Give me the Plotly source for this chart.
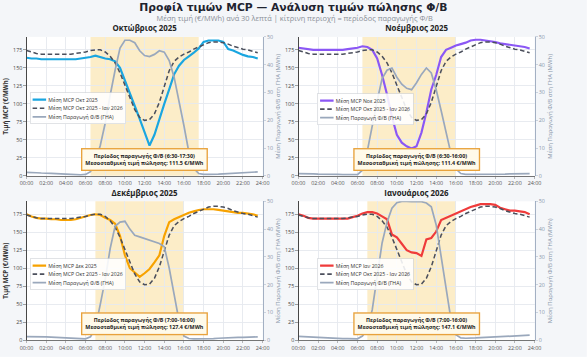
import plotly.graph_objects as go
from plotly.subplots import make_subplots

# ---------------- data ----------------
slot_hours = [0.0, 0.5, 1.0, 1.5, 2.0, 2.5, 3.0, 3.5, 4.0, 4.5, 5.0, 5.5,
              6.0, 6.5, 7.0, 7.5, 8.0, 8.5, 9.0, 9.5, 10.0, 10.5, 11.0, 11.5,
              12.0, 12.5, 13.0, 13.5, 14.0, 14.5, 15.0, 15.5, 16.0, 16.5, 17.0, 17.5,
              18.0, 18.5, 19.0, 19.5, 20.0, 20.5, 21.0, 21.5, 22.0, 22.5, 23.0, 23.5]

tick_hours = [0, 2, 4, 6, 8, 10, 12, 14, 16, 18, 20, 22, 24]
tick_labels = ["00:00", "02:00", "04:00", "06:00", "08:00", "10:00", "12:00",
               "14:00", "16:00", "18:00", "20:00", "22:00", "24:00"]
price_ticks = [0, 25, 50, 75, 100, 125, 150, 175]
pv_ticks = [0, 10, 20, 30, 40, 50]

month_titles = ["Οκτώβριος 2025", "Νοέμβριος 2025", "Δεκέμβριος 2025", "Ιανουάριος 2026"]
month_short = ["Οκτ 2025", "Νοε 2025", "Δεκ 2025", "Ιαν 2026"]

mcp_oct = [164, 163, 163, 162, 162, 162, 162, 162, 162, 162, 162, 163,
           164, 165, 167, 165, 163, 162, 159, 150, 133, 116, 97, 79,
           61, 42, 57, 79, 100, 120, 141, 153, 161, 166, 171, 177,
           186, 188, 188, 188, 186, 176, 174, 171, 168, 166, 165, 163]
mcp_nov = [178, 177, 176, 175, 175, 175, 175, 175, 175, 175, 176, 177,
           178, 180, 179, 175, 163, 140, 113, 82, 57, 46, 41, 38,
           41, 60, 88, 120, 140, 165, 175, 178, 181, 183, 185, 188,
           189, 189, 188, 187, 186, 184, 183, 182, 181, 180, 179, 177]
mcp_dec = [175, 172, 170, 169, 169, 168, 168, 167, 167, 167, 168, 170,
           172, 174, 175, 174, 170, 167, 162, 145, 118, 100, 94, 88,
           93, 99, 108, 118, 145, 164, 168, 171, 174, 177, 179, 181,
           182, 182, 182, 181, 180, 179, 178, 177, 177, 176, 175, 173]
mcp_jan = [175, 173, 170, 169, 169, 169, 169, 169, 169, 169, 169, 171,
           173, 176, 178, 178, 176, 172, 168, 147, 143, 134, 125, 122,
           121, 117, 140, 142, 151, 167, 170, 173, 176, 179, 182, 185,
           187, 189, 189, 189, 188, 184, 182, 180, 180, 179, 178, 175]
mcp_avg = [174, 172, 170, 169, 169, 169, 169, 169, 169, 169, 170, 171,
           172, 174, 175, 175, 172, 166, 157, 143, 126, 108, 92, 81,
           77, 78, 86, 102, 124, 146, 159, 165, 169, 172, 176, 179,
           182, 185, 186, 186, 185, 183, 180, 178, 176, 175, 173, 171]

pv_oct = [1.2, 1.2, 1.1, 1.0, 1.0, 0.9, 0.8, 0.7, 0.6, 0.5, 0.4, 0.3,
          0.5, 1.5, 5.0, 11.0, 19.0, 29.0, 38.0, 46.0, 48.8, 48.8, 47.9, 45.0,
          43.3, 42.9, 43.7, 45.0, 44.5, 41.5, 35.5, 27.0, 18.0, 8.5, 2.7, 0.8,
          0.5, 0.5, 0.5, 0.6, 0.7, 0.8, 0.9, 1.0, 1.1, 1.2, 1.3, 1.4]
pv_nov = [0.8, 0.8, 0.7, 0.7, 0.6, 0.6, 0.5, 0.5, 0.5, 0.4, 0.4, 0.4,
          0.4, 2.0, 9.0, 18.0, 27.0, 35.0, 38.0, 38.8, 35.5, 33.0, 31.5, 31.0,
          33.5, 36.5, 38.8, 37.0, 31.0, 23.5, 15.5, 8.0, 2.5, 0.8, 0.5, 0.5,
          0.5, 0.5, 0.5, 0.5, 0.6, 0.6, 0.6, 0.7, 0.7, 0.7, 0.8, 0.8]
pv_dec = [1.3, 1.3, 1.3, 1.2, 1.2, 1.1, 1.0, 0.9, 0.8, 0.7, 0.6, 0.5,
          0.5, 1.2, 4.5, 13.0, 22.0, 33.0, 41.0, 42.5, 42.8, 40.0, 37.8, 37.2,
          36.6, 36.0, 35.4, 34.8, 33.6, 26.0, 16.5, 7.0, 1.5, 0.6, 0.5, 0.5,
          0.5, 0.6, 0.6, 0.7, 0.8, 0.8, 0.9, 1.0, 1.0, 1.1, 1.1, 1.2]
pv_jan = [1.4, 1.3, 1.2, 1.1, 1.0, 0.9, 0.8, 0.8, 0.7, 0.6, 0.6, 0.5,
          0.5, 1.5, 4.0, 11.0, 23.0, 35.0, 42.5, 47.5, 49.5, 50.0, 50.0, 49.9,
          50.0, 49.9, 49.4, 48.0, 41.5, 30.0, 18.0, 7.5, 2.0, 0.8, 0.7, 0.7,
          0.8, 0.9, 1.0, 1.1, 1.2, 1.3, 1.4, 1.5, 1.6, 1.6, 1.7, 1.8]

pv_start = [6.5, 6.5, 7.0, 7.0]
pv_end = [17.5, 16.0, 16.0, 16.0]
pv_period_labels = ["6:30-17:30", "6:30-16:00", "7:00-16:00", "7:00-16:00"]
weighted_price = [111.5, 111.4, 127.4, 147.1]

month_mcp = [mcp_oct, mcp_nov, mcp_dec, mcp_jan]
month_pv = [pv_oct, pv_nov, pv_dec, pv_jan]
month_colors = ["#1aa6e0", "#8b57f5", "#f7a200", "#ef3b3b"]

# ---------------- styling ----------------
S = 0.45                      # page scale (figure is drawn large, shown at 587x357)
W, H = 1304, 793
FONT = "Open Sans, Noto Sans, sans-serif"
TITLE_FONT = "DejaVu Sans, Open Sans, sans-serif"
AVG_COLOR = "#4b4f5c"
PV_COLOR = "#9aa8bc"
SHADE = "#fcedc8"
GRID = "#e6e9ee"
Y2_TEXT = "#8a97ab"

fig = make_subplots(
    rows=2, cols=2,
    specs=[[{"secondary_y": True}, {"secondary_y": True}],
           [{"secondary_y": True}, {"secondary_y": True}]],
    horizontal_spacing=0.0663, vertical_spacing=0.0841,
)

legend_names = ["legend", "legend2", "legend3", "legend4"]
xrefs = ["x", "x2", "x3", "x4"]
yrefs = ["y", "y3", "y5", "y7"]

for i in range(4):
    r, c = i // 2 + 1, i % 2 + 1
    lg = legend_names[i]
    fig.add_trace(go.Scatter(
        x=slot_hours, y=month_mcp[i], mode="lines",
        name="Μέση MCP " + month_short[i],
        line=dict(color=month_colors[i], width=4.8),
        legend=lg, hoverinfo="skip"), row=r, col=c, secondary_y=False)
    fig.add_trace(go.Scatter(
        x=slot_hours, y=mcp_avg, mode="lines",
        name="Μέση MCP Οκτ 2025 - Ιαν 2026",
        line=dict(color=AVG_COLOR, width=3.4, dash="10px,6px"),
        legend=lg, hoverinfo="skip"), row=r, col=c, secondary_y=False)
    fig.add_trace(go.Scatter(
        x=slot_hours, y=month_pv[i], mode="lines",
        name="Μέση Παραγωγή Φ/Β (ΓΗΑ)",
        line=dict(color=PV_COLOR, width=3.8),
        legend=lg, hoverinfo="skip"), row=r, col=c, secondary_y=True)

    # PV production period shading
    fig.add_shape(type="rect", xref=xrefs[i], yref=yrefs[i] + " domain",
                  x0=pv_start[i], x1=pv_end[i], y0=0, y1=1,
                  fillcolor=SHADE, line=dict(width=0), layer="below")

    # panel title
    fig.add_annotation(
        xref=xrefs[i] + " domain", yref=yrefs[i] + " domain",
        x=0.5, y=1, xanchor="center", yanchor="bottom", yshift=5, align="left",
        text="<b>" + month_titles[i] + "</b>", showarrow=False,
        font=dict(family=FONT, size=17.5, color="#222222"))

    # info box
    fig.add_annotation(
        xref=xrefs[i] + " domain", yref=yrefs[i] + " domain",
        x=0.5, y=0.035, xanchor="center", yanchor="bottom",
        text=("<b>Περίοδος παραγωγής Φ/Β (" + pv_period_labels[i] + ")</b><br>"
              "<b>Μεσοσταθμική τιμή πώλησης: " + f"{weighted_price[i]:.1f}" + " €/MWh</b>"),
        showarrow=False, align="center",
        font=dict(family=FONT, size=12, color="#222222"),
        bgcolor="#fffaea", bordercolor="#e8a23c", borderwidth=3, borderpad=6)

    # axes
    fig.update_xaxes(row=r, col=c, range=[0, 24], tickvals=tick_hours, ticktext=tick_labels,
                     showgrid=True, gridcolor=GRID, gridwidth=1.5, zeroline=False,
                     showline=True, linecolor="#666666", linewidth=1.5,
                     ticks="outside", ticklen=5, tickcolor="#666666",
                     tickfont=dict(family=FONT, size=12, color="#555555"))
    fig.update_yaxes(row=r, col=c, secondary_y=False, range=[0, 193], tickvals=price_ticks,
                     showgrid=True, gridcolor=GRID, gridwidth=1.5, zeroline=False,
                     showline=True, linecolor="#333333", linewidth=2,
                     ticks="outside", ticklen=5, tickcolor="#333333",
                     tickfont=dict(family=FONT, size=12, color="#444444"),
                     title=dict(text="<b>Τιμή MCP (€/MWh)</b>" if c == 1 else "",
                                font=dict(family=FONT, size=13.5, color="#333333"),
                                standoff=8))
    fig.update_yaxes(row=r, col=c, secondary_y=True, range=[0, 50], tickvals=pv_ticks,
                     showgrid=False, zeroline=False,
                     showline=True, linecolor=PV_COLOR, linewidth=2,
                     ticks="outside", ticklen=5, tickcolor=PV_COLOR,
                     tickfont=dict(family=FONT, size=12, color=Y2_TEXT),
                     title=dict(text="Μέση Παραγωγή Φ/Β στη ΓΗΑ (MWh)",
                                font=dict(family=FONT, size=13.5, color=Y2_TEXT),
                                standoff=6))

# subtitle
fig.add_annotation(xref="paper", yref="paper", x=0.4963, y=1 + (82 - 40.5) / 682,
                   xanchor="center", yanchor="middle", showarrow=False, align="left",
                   text="Μέση τιμή (€/MWh) ανά 30 λεπτά | κίτρινη περιοχή = περίοδος παραγωγής Φ/Β",
                   font=dict(family=FONT, size=16.5, color="#8a8f98"))

legend_style = dict(bgcolor="rgba(255,255,255,0.88)", bordercolor="#d2d5da", borderwidth=1.5,
                    font=dict(family=FONT, size=11.5, color="#333333"),
                    xanchor="left", yanchor="top", traceorder="normal")

fig.update_layout(
    width=W, height=H,
    margin=dict(l=53, r=44, t=82, b=29),
    paper_bgcolor="#f4f6f9", plot_bgcolor="white",
    font=dict(family=FONT),
    showlegend=True,
    title=dict(text="<b>Προφίλ τιμών MCP — Ανάλυση τιμών πώλησης Φ/Β</b>",
               x=0.5, xref="container", xanchor="center",
               y=1 - 15 / H, yref="container", yanchor="middle",
               font=dict(family=TITLE_FONT, size=24, color="#1f2430")),
    legend=dict(x=0.0058, y=0.8167, **legend_style),
    legend2=dict(x=0.5377, y=0.8138, **legend_style),
    legend3=dict(x=0.0058, y=0.2698, **legend_style),
    legend4=dict(x=0.5377, y=0.2698, **legend_style),
)

post = """
document.documentElement.style.overflow='hidden';
document.body.style.margin='0';
document.body.style.overflow='hidden';
var gd=document.getElementById('{plot_id}');
gd.style.transformOrigin='0 0';
gd.style.transform='scale(%s)';
""" % S

fig.write_html("out.html", config={"displayModeBar": False}, post_script=post)
